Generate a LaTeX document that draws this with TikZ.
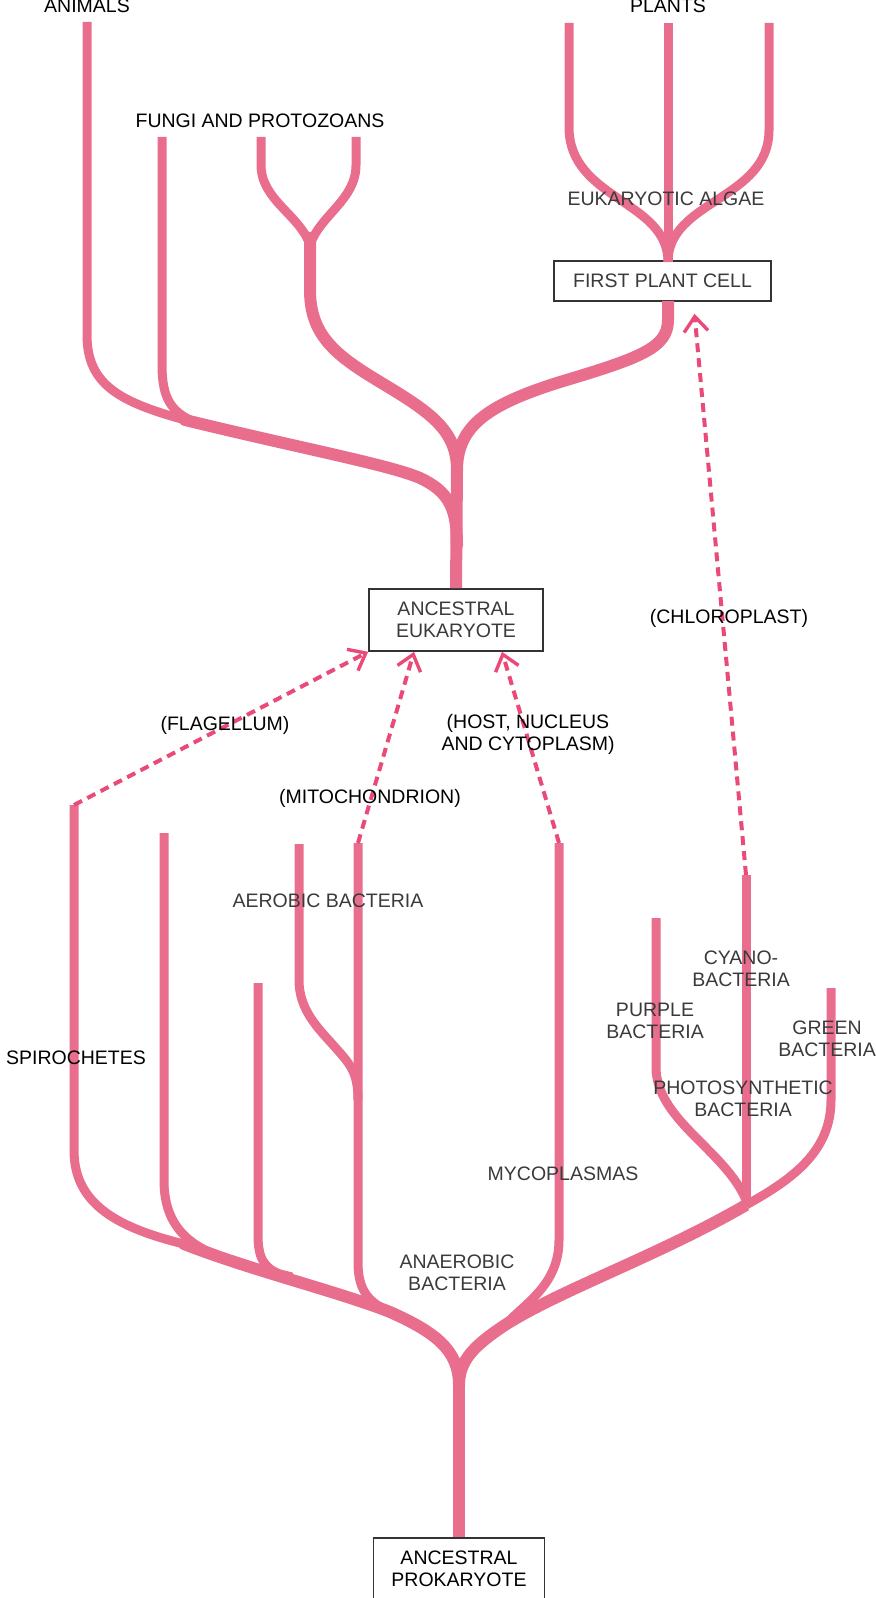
\documentclass[tikz,border=0pt]{standalone}
\usepackage{fontspec}
\setmainfont{Liberation Sans}
\usetikzlibrary{arrows.meta}
\definecolor{treepink}{RGB}{233,110,142}
\definecolor{arrowpink}{RGB}{234,74,120}
\definecolor{labelgray}{RGB}{58,58,58}
\begin{document}
\begin{tikzpicture}[x=0.5pt, y=-0.5pt,
    branch/.style={draw=treepink, line width=4.5pt, line cap=butt},
    thickbranch/.style={branch, line width=6pt},
    mainbranch/.style={thickbranch, line cap=round},
    transfer/.style={draw=arrowpink, line width=2pt, dash pattern=on 4.5pt off 3pt,
        -{Straight Barb[length=7.5pt, width=12pt, line width=1.7pt]}},
    lbl/.style={font=\fontsize{9.75}{11}\selectfont, inner sep=0pt, align=center},
    glbl/.style={lbl, text=labelgray},
    cell/.style={draw=black!80, line width=0.8pt, glbl}]
    \useasboundingbox (0,0) rectangle (876,1598);

    % Boxes
    \node[cell, minimum width=108.5pt, minimum height=20pt] (plant) at (662.5,281) {FIRST PLANT CELL};
    \node[cell, minimum width=87pt, minimum height=31pt] (euk) at (456,620) {ANCESTRAL\\EUKARYOTE};
    \node[cell, text=black, minimum width=85.5pt, minimum height=31pt] (prok) at (459,1569) {ANCESTRAL\\PROKARYOTE};

    % Tips and joins of the upper tree
    \coordinate (animalsTop) at (87,22);
    \coordinate (fungiTop) at (162,137);
    \coordinate (protoLTop) at (261,137);
    \coordinate (protoRTop) at (356,137);
    \coordinate (plantLTop) at (569,23);
    \coordinate (plantMTop) at (668,23);
    \coordinate (plantRTop) at (769,23);
    \coordinate (animalJoin) at (185,420);
    \coordinate (protoJoin) at (310,245);
    \coordinate (plantBase) at (668,262);
    \coordinate (plantStem) at (668,301);
    \coordinate (eukFork) at (457,470);

    % Upper tree
    \draw[branch] (animalsTop) -- (87,335) .. controls (87,385) and (120,402) .. (animalJoin) -- (205,425);
    \draw[branch] (fungiTop) -- (162,365) .. controls (162,400) and (172,414) .. (200,424) -- (215,427);
    \draw[mainbranch] (animalJoin) .. controls (300,448) and (390,465) .. (420,478)
        .. controls (450,492) and (457,510) .. (457,545);
    \draw[branch] (protoLTop) -- (261,165) .. controls (261,200) and (300,215) .. (protoJoin);
    \draw[branch] (protoRTop) -- (356,165) .. controls (356,200) and (320,215) .. (protoJoin);
    \draw[thickbranch] (310,232) -- (310,290) .. controls (310,335) and (335,355) .. (380,382)
        .. controls (430,412) and (457,430) .. (eukFork);
    \draw[branch] (plantLTop) -- (569,127) .. controls (569,200) and (668,200) .. (plantBase);
    \draw[branch] (plantRTop) -- (769,130) .. controls (769,200) and (668,200) .. (plantBase);
    \draw[branch] (plantMTop) -- (plantBase);
    \draw[thickbranch] (plantStem) -- (668,320) .. controls (668,348) and (640,358) .. (560,382)
        .. controls (490,404) and (457,425) .. (eukFork);
    \draw[thickbranch] (eukFork) -- (euk.north);

    % Tips and joins of the lower tree
    \coordinate (spiroTop) at (74,805);
    \coordinate (anaerobATop) at (164,833);
    \coordinate (anaerobBTop) at (258,983);
    \coordinate (aerobLTop) at (299,844);
    \coordinate (aerobRTop) at (358,843);
    \coordinate (mycoTop) at (559,843);
    \coordinate (purpleTop) at (656,918);
    \coordinate (cyanoTop) at (746,875);
    \coordinate (greenTop) at (831,988);
    \coordinate (spiroJoin) at (184,1244);
    \coordinate (photoJoin) at (746,1200);
    \coordinate (prokFork) at (459,1385);

    % Lower tree
    \draw[branch] (spiroTop) -- (74,1150) .. controls (74,1200) and (110,1226) .. (spiroJoin) -- (200,1250);
    \draw[branch] (anaerobATop) -- (164,1180) .. controls (164,1215) and (178,1236) .. (205,1250) -- (218,1255);
    \draw[branch] (anaerobBTop) -- (258,1235) .. controls (258,1258) and (264,1268) .. (280,1274) -- (292,1277);
    \draw[branch] (aerobLTop) -- (299,980) .. controls (299,1010) and (318,1028) .. (334,1046)
        .. controls (350,1064) and (358,1072) .. (358,1100);
    \draw[branch] (aerobRTop) -- (358,1262) .. controls (358,1290) and (368,1302) .. (390,1312)
        .. controls (435,1332) and (459,1350) .. (prokFork);
    \draw[mainbranch] (spiroJoin) .. controls (250,1270) and (340,1292) .. (390,1312)
        .. controls (435,1332) and (459,1350) .. (prokFork);
    \draw[branch] (mycoTop) -- (559,1240) .. controls (559,1285) and (525,1303) .. (505,1325)
        .. controls (475,1345) and (459,1360) .. (prokFork);
    \draw[branch] (purpleTop) -- (656,1067) .. controls (656,1120) and (725,1150) .. (photoJoin);
    \draw[branch] (cyanoTop) -- (746,1207);
    \draw[branch] (greenTop) -- (831,1100) .. controls (831,1150) and (795,1178) .. (746,1205);
    \draw[thickbranch] (746,1205) .. controls (660,1255) and (560,1290) .. (505,1325)
        .. controls (475,1345) and (459,1360) .. (prokFork);
    \draw[thickbranch] (prokFork) -- (prok.north);

    % Transfers into the eukaryote cells
    \draw[transfer] (spiroTop) -- (euk.south west);
    \draw[transfer] (aerobRTop) -- ([xshift=-21pt]euk.south);
    \draw[transfer] (mycoTop) -- ([xshift=23pt]euk.south);
    \draw[transfer] (cyanoTop) -- ([xshift=16pt, yshift=-6pt]plant.south);

    % Labels
    \node[lbl] (animals) at (87,6) {ANIMALS};
    \node[lbl] (plants) at (668,6) {PLANTS};
    \node[lbl] (fungi) at (260,121) {FUNGI AND PROTOZOANS};
    \node[glbl] (algae) at (666,199) {EUKARYOTIC ALGAE};
    \node[lbl] (chloroplast) at (729,618) {(CHLOROPLAST)};
    \node[lbl] (flagellum) at (225,725) {(FLAGELLUM)};
    \node[lbl] (host) at (528,734.5) {(HOST, NUCLEUS\\AND CYTOPLASM)};
    \node[lbl] (mitochondrion) at (370,798) {(MITOCHONDRION)};
    \node[glbl] (aerobic) at (328,901) {AEROBIC BACTERIA};
    \node[lbl] (spirochetes) at (76,1058) {SPIROCHETES};
    \node[glbl] (cyano) at (741,969) {CYANO-\\BACTERIA};
    \node[glbl] (purple) at (655,1021) {PURPLE\\BACTERIA};
    \node[glbl] (green) at (827,1039) {GREEN\\BACTERIA};
    \node[glbl] (photo) at (743,1099) {PHOTOSYNTHETIC\\BACTERIA};
    \node[glbl] (myco) at (563,1174) {MYCOPLASMAS};
    \node[glbl] (anaerobic) at (457,1273) {ANAEROBIC\\BACTERIA};
\end{tikzpicture}
\end{document}
